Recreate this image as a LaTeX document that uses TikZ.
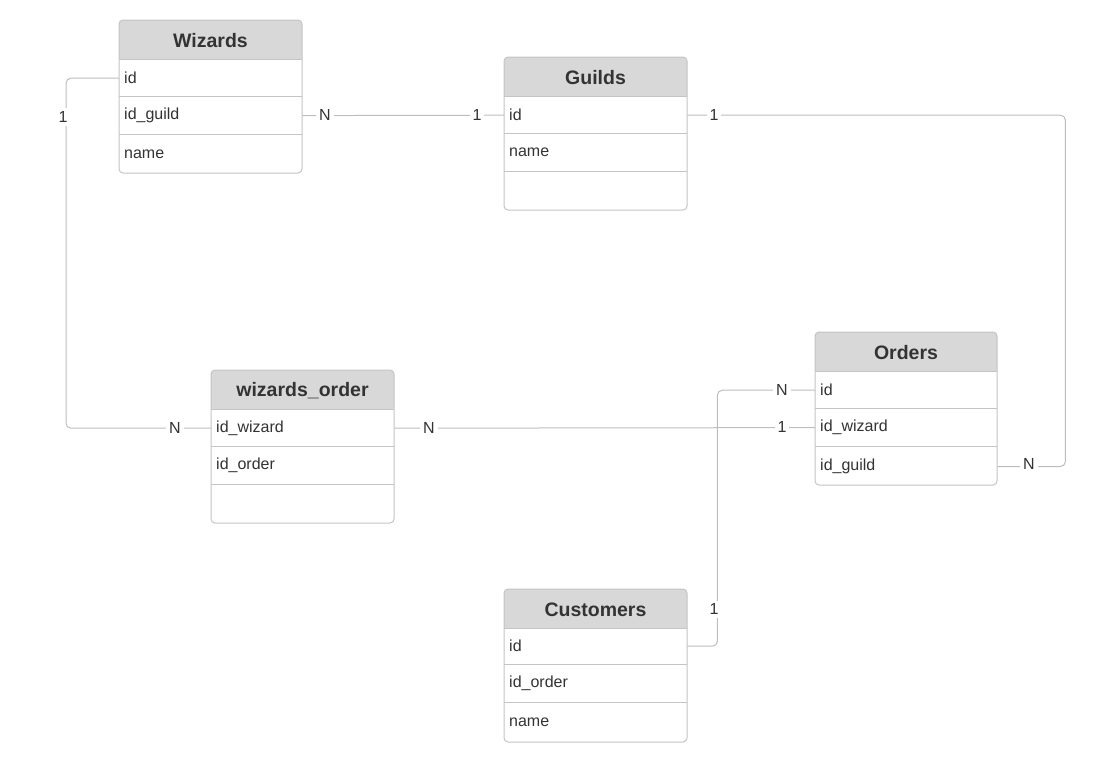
\documentclass[tikz,border=0pt]{standalone}
\usepackage{fontspec}
\setmainfont{Liberation Sans}
\definecolor{hdr}{HTML}{D8D8D8}
\definecolor{bord}{HTML}{C4C4C4}
\definecolor{lin}{HTML}{BDBDBD}
\definecolor{txt}{HTML}{333333}
\tikzset{
  tabbox/.style={draw=bord, line width=1pt, rounded corners=4pt},
  rowcell/.style={minimum width=183pt, minimum height=37pt, text width=173pt, inner sep=5pt,
    font=\fontsize{16}{19}\selectfont, text=txt, align=left, anchor=north west},
  lastrow/.style={minimum height=40pt},
  tabtitle/.style={font=\bfseries\fontsize{19.5}{23}\selectfont, text=txt},
  conn/.style={draw=lin, line width=1pt, rounded corners=5pt},
  card/.style={fill=white, font=\fontsize{16}{19}\selectfont, text=txt, inner sep=3pt}
}
% name, x, top, width, title, number of rows
\newcommand\ertable[6]{%
  \fill[white, rounded corners=4pt] (#2,#3) rectangle ++(#4,39+37*#6+3);
  \fill[hdr, rounded corners=4pt] (#2,#3) rectangle ++(#4,39);
  \fill[hdr] (#2,#3+20) rectangle ++(#4,19);
  \draw[bord, line width=1pt] (#2,#3+39) -- ++(#4,0);
  \draw[tabbox] (#2,#3) rectangle ++(#4,39+37*#6+3);
  \node[tabtitle] (#1) at (#2+#4/2,#3+21) {#5};
}
\newcommand\sep[1]{\draw[bord, line width=1pt] (#1.south west) -- (#1.south east);}
\begin{document}
\begin{tikzpicture}[x=1pt,y=-1pt]
\path (0,0) rectangle (1111,763);

% Wizards
\ertable{w}{119}{20}{183}{Wizards}{3}
\node[rowcell] (w-1) at (119,59.5) {id};
\node[rowcell] (w-2) at (w-1.south west) {id\_guild};
\node[rowcell, lastrow] (w-3) at (w-2.south west) {name};
\sep{w-1}\sep{w-2}

% Guilds
\ertable{g}{504}{57}{183}{Guilds}{3}
\node[rowcell] (g-1) at (504,96.5) {id};
\node[rowcell] (g-2) at (g-1.south west) {name};
\node[rowcell, lastrow] (g-3) at (g-2.south west) {};
\sep{g-1}\sep{g-2}

% wizards_order
\ertable{wo}{211}{370}{183}{wizards\_order}{3}
\node[rowcell] (wo-1) at (211,409.5) {id\_wizard};
\node[rowcell] (wo-2) at (wo-1.south west) {id\_order};
\node[rowcell, lastrow] (wo-3) at (wo-2.south west) {};
\sep{wo-1}\sep{wo-2}

% Orders
\ertable{o}{815}{332}{182}{Orders}{3}
\node[rowcell, minimum width=182pt, text width=172pt] (o-1) at (815,371.5) {id};
\node[rowcell, minimum width=182pt, text width=172pt] (o-2) at (o-1.south west) {id\_wizard};
\node[rowcell, lastrow, minimum width=182pt, text width=172pt] (o-3) at (o-2.south west) {id\_guild};
\sep{o-1}\sep{o-2}

% Customers
\ertable{c}{504}{589}{183}{Customers}{3}
\node[rowcell] (c-1) at (504,627.5) {id};
\node[rowcell] (c-2) at (c-1.south west) {id\_order};
\node[rowcell, lastrow] (c-3) at (c-2.south west) {name};
\sep{c-1}\sep{c-2}

% connectors
\draw[conn] (w-1.west) -- ++(-53,0) |- (wo-1.west);
\draw[conn] (w-2.east) -- (g-1.west);
\draw[conn] (g-1.east) -- ++(378,0) |- (o-3.east);
\draw[conn] (wo-1.east) -- (o-2.west);
\draw[conn] (c-1.east) -- ++(30,0) |- (o-1.west);

% cardinalities
\node[card] (l1) at (63,117) {1};
\node[card] (l2) at (175,428) {N};
\node[card] (l3) at (325,115) {N};
\node[card] (l4) at (477,115) {1};
\node[card] (l5) at (714,115) {1};
\node[card] (l6) at (1029,464) {N};
\node[card] (l7) at (429,428) {N};
\node[card] (l8) at (782,427) {1};
\node[card] (l9) at (714,609) {1};
\node[card] (l10) at (782,390) {N};
\end{tikzpicture}
\end{document}
